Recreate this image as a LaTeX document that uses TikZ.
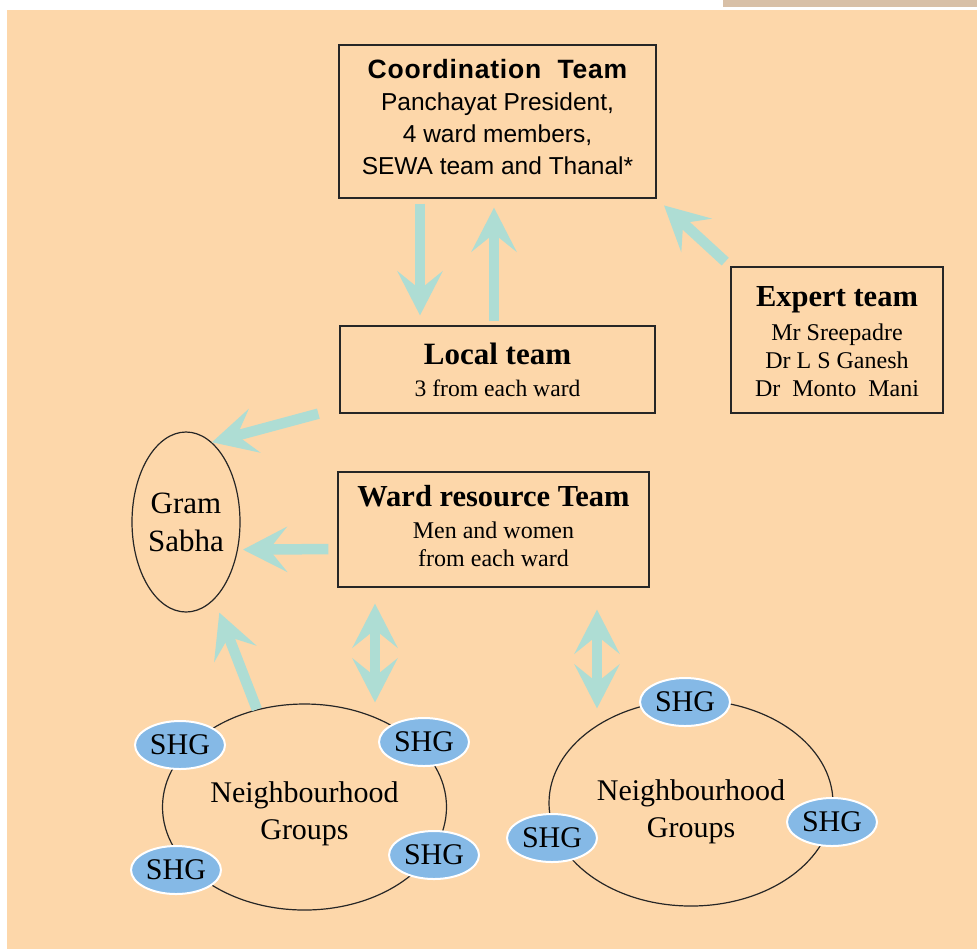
\documentclass[tikz,border=0pt]{standalone}
\usepackage{fontspec}
\setmainfont{Liberation Serif}
\setsansfont{Liberation Sans}
\newfontfamily\spacedsans[LetterSpace=3]{Liberation Sans}
\usetikzlibrary{arrows.meta,shapes.geometric}
\definecolor{peach}{HTML}{FDD7AA}
\definecolor{tealarrow}{HTML}{AEDDD4}
\definecolor{shgblue}{HTML}{85B9E6}
\definecolor{topbar}{HTML}{D8C0A7}

\begin{document}
\begin{tikzpicture}[x=0.5pt, y=-0.5pt,
                    teambox/.style = {shape=rectangle, draw=black!85, line width=0.65pt,
                                      align=center, inner sep=0pt},
                    groupring/.style = {shape=ellipse, draw=black!85, line width=0.6pt,
                                        align=center, inner sep=0pt,
                                        font=\fontsize{15}{18.5}\selectfont},
                    shgnode/.style = {shape=ellipse, draw=white, line width=1pt, fill=shgblue,
                                      minimum width=45pt, minimum height=24pt, inner sep=0pt,
                                      font=\fontsize{15}{15}\selectfont},
                    bigarrow/.style = {draw=tealarrow, line width=5.25pt,
                                       -{Stealth[length=22pt, width=22.5pt, inset=9pt]}},
                    bothway/.style = {draw=tealarrow, line width=5.25pt,
                                      {Stealth[length=22pt, width=22.5pt, inset=9pt]}-{Stealth[length=22pt, width=22.5pt, inset=9pt]}}]

  % page and top bar
  \useasboundingbox (0,0) rectangle (977,949);
  \fill[white] (0,0) rectangle (977,949);
  \fill[peach] (7,10) rectangle (977,949);
  \fill[topbar] (723,0) rectangle (977,7);

  % teams
  \node[teambox, minimum width=158.5pt, minimum height=76.5pt,
        font=\sffamily\fontsize{12.25}{16}\selectfont] (coord) at (497.5,121.5)
    {{\spacedsans\bfseries\fontsize{13.25}{16}\selectfont Coordination\ \ Team}\\
     Panchayat President,\\ 4 ward members,\\ SEWA team and Thanal*\rule[-4.7pt]{0pt}{0pt}};
  \node[teambox, minimum width=157.5pt, minimum height=43.5pt,
        font=\fontsize{11.8}{14}\selectfont] (local) at (497.5,369.5)
    {{\bfseries\fontsize{15.5}{16}\selectfont Local team}\\[2pt] 3 from each ward};
  \node[teambox, minimum width=106pt, minimum height=73pt,
        font=\fontsize{12}{14}\selectfont] (expert) at (837,340)
    {\rule{0pt}{12pt}{\bfseries\fontsize{15.25}{16}\selectfont Expert team}\\[3pt]
     Mr Sreepadre\\ Dr L S Ganesh\\ Dr\ \ Monto\ \ Mani};
  \node[teambox, minimum width=155.5pt, minimum height=57.5pt,
        font=\fontsize{12}{14}\selectfont] (ward) at (493.5,529.5)
    {{\bfseries\fontsize{15.25}{16}\selectfont Ward resource Team}\\[2pt]
     Men and women\\ from each ward\rule[-3.2pt]{0pt}{0pt}};
  \node[groupring, minimum width=54pt, minimum height=90pt,
        font=\fontsize{15.5}{19}\selectfont] (gram) at (186,522) {Gram\\ Sabha};

  % neighbourhood groups
  \node[groupring, minimum width=142pt, minimum height=103pt] (ngleft) at (304.5,807)
    {\rule{0pt}{17.5pt}Neighbourhood\\ Groups};
  \node[groupring, minimum width=142pt, minimum height=103pt] (ngright) at (691,803)
    {\rule{0pt}{19.5pt}Neighbourhood\\ Groups};

  \node[shgnode] (shgA) at (180,745) {SHG};
  \node[shgnode] (shgB) at (424,742) {SHG};
  \node[shgnode] (shgC) at (176,870) {SHG};
  \node[shgnode] (shgD) at (434,855) {SHG};
  \node[shgnode] (shgE) at (685,702) {SHG};
  \node[shgnode] (shgF) at (832,822) {SHG};
  \node[shgnode] (shgG) at (552,838) {SHG};

  % arrows
  \draw[bigarrow, shorten <=2.5pt, shorten >=5pt] ([xshift=-38.75pt]coord.south) -- ([xshift=-38.75pt]local.north);
  \draw[bigarrow, shorten <=2pt, shorten >=4.5pt] ([xshift=-1.75pt]local.north) -- ([xshift=-1.75pt]coord.south);
  \draw[bigarrow, shorten <=3.5pt, shorten >=5pt] (expert.north west) -- (coord.south east);
  \draw[bigarrow] ([xshift=-10.5pt]local.south west) -- (gram.72);
  \draw[bigarrow, shorten <=4.5pt, shorten >=2.5pt] ([yshift=-9.75pt]ward.west) -- (gram.-28);
  \draw[bigarrow, shorten >=7pt] (ngleft.116) -- (gram.-70);
  \draw[bothway, shorten <=8pt, shorten >=0.5pt] ([xshift=-59.25pt]ward.south) -- ([xshift=-59.25pt]ward.south |- ngleft.north);
  \draw[bothway, shorten <=11pt, shorten >=-4.5pt] ([xshift=51.75pt]ward.south) -- ([xshift=51.75pt]ward.south |- ngright.north);
\end{tikzpicture}
\end{document}
